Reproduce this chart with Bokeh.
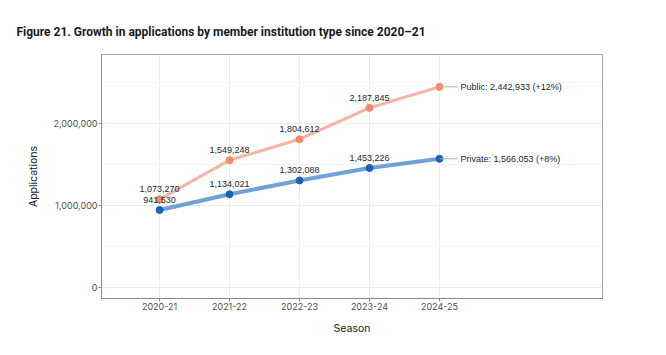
from bokeh.plotting import figure
from bokeh.models import (ColumnDataSource, Range1d, FixedTicker, Title, NumeralTickFormatter)
from bokeh.core.properties import value
from bokeh.embed import file_html
from bokeh.resources import INLINE

seasons = ["2020-21", "2021-22", "2022-23", "2023-24", "2024-25"]
public = [1073270, 1549248, 1804612, 2187845, 2442933]
private = [941530, 1134021, 1302088, 1453226, 1566053]
public_label = "Public: 2,442,933 (+12%)"
private_label = "Private: 1,566,053 (+8%)"
y_ticks = [0, 1000000, 2000000]
y_minor = [500000, 1500000, 2500000]

xs = list(range(len(seasons)))

p = figure(width=666, height=355, output_backend="svg", toolbar_location=None,
           x_range=Range1d(-0.83, 6.33), y_range=Range1d(-138000, 2838000),
           min_border_left=101, min_border_right=64, min_border_top=54, min_border_bottom=57)
p.background_fill_color = "white"
p.border_fill_color = "white"
p.outline_line_color = "#a6a6a6"
p.outline_line_width = 1

t = Title(text="Figure 21. Growth in applications by member institution type since 2020\u201321",
          text_font="Roboto", text_font_size="12px", text_font_style="bold",
          text_color="#1a1a1a", align="left", offset=-85, standoff=31)
p.add_layout(t, "above")

# axes
p.xaxis.ticker = FixedTicker(ticks=xs)
p.xaxis.major_label_overrides = {i: s for i, s in enumerate(seasons)}
p.yaxis.ticker = FixedTicker(ticks=y_ticks, minor_ticks=y_minor)
p.yaxis.formatter = NumeralTickFormatter(format="0,0")
for ax in (p.xaxis[0], p.yaxis[0]):
    ax.axis_line_color = "#8c8c8c"
    ax.major_tick_line_color = "#8c8c8c"
    ax.major_tick_out = 3
    ax.major_tick_in = 0
    ax.minor_tick_out = 0
    ax.minor_tick_in = 0
    ax.major_label_text_font = "Inter"
    ax.major_label_text_font_size = "9px"
    ax.major_label_text_color = "#4d4d4d"
    ax.major_label_standoff = 1
    ax.axis_label_text_font = "Inter"
    ax.axis_label_text_font_size = "10.5px"
    ax.axis_label_text_font_style = "normal"
    ax.axis_label_text_color = "#1a1a1a"
p.xaxis.axis_label = "Season"
p.yaxis.axis_label = "Applications"
p.xaxis.axis_label_standoff = 9
p.yaxis.axis_label_standoff = 10

p.xgrid.grid_line_color = "#ebebeb"
p.ygrid.grid_line_color = "#ebebeb"
p.ygrid.minor_grid_line_color = "#f5f5f5"

src = ColumnDataSource(dict(x=xs, public=public, private=private))

p.line("x", "public", source=src, line_color="#f4b6a4", line_width=3)
p.line("x", "private", source=src, line_color="#6fa2d6", line_width=4)
p.scatter("x", "public", source=src, size=7, fill_color="#ef8a6a", line_color="#ef8a6a")
p.scatter("x", "private", source=src, size=7, fill_color="#1b62b1", line_color="#1b62b1")

n = len(seasons) - 1
lab_src = ColumnDataSource(dict(x=xs[:n] + xs[:n], y=public[:n] + private[:n],
                                t=[f"{v:,}" for v in public[:n]] + [f"{v:,}" for v in private[:n]]))
p.text("x", "y", text="t", source=lab_src, text_align="center", text_baseline="middle",
       y_offset=-10, text_font=value("Liberation Sans"), text_font_size="9px", text_color="#262626")

# end labels
end_src = ColumnDataSource(dict(x0=[n, n], x1=[n + 0.27, n + 0.27], y=[public[n], private[n]],
                                tx=[n + 0.3, n + 0.3], t=[public_label, private_label]))
p.segment("x0", "y", "x1", "y", source=end_src, line_color="#b3b3b3", line_width=1)
p.text("tx", "y", text="t", source=end_src, text_align="left", text_baseline="middle",
       text_font=value("Liberation Sans"), text_font_size="9px", text_color="#262626")

open("out.html", "w").write(file_html(p, INLINE))
